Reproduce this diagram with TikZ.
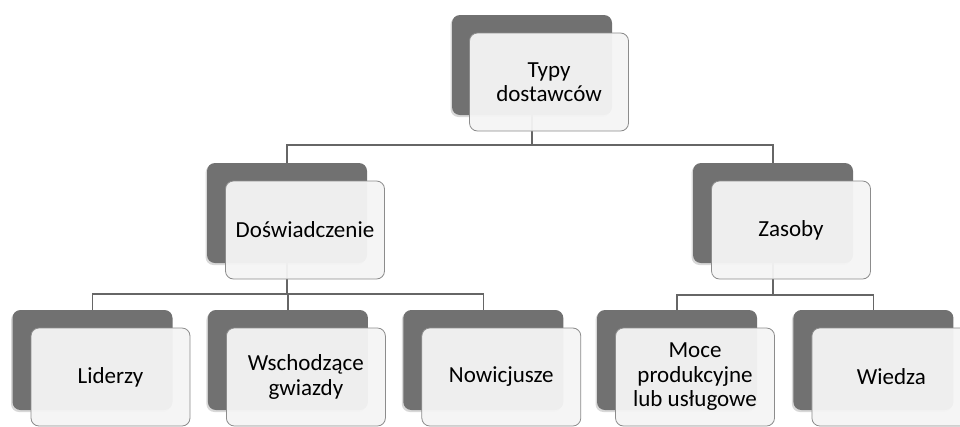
\documentclass[tikz,border=0pt]{standalone}
\usepackage{fontspec}
\setmainfont{Carlito}
\usepackage{tikz}
\usetikzlibrary{positioning,calc,shadows}
\pgfdeclarelayer{bg}
\pgfsetlayers{bg,main}
\definecolor{backgray}{HTML}{717171}
\definecolor{frontgray}{HTML}{F5F5F5}
\definecolor{edgegray}{HTML}{8C8C8C}
\definecolor{linegray}{HTML}{666666}

\begin{document}
\begin{tikzpicture}[x=1pt,y=-1pt]

\tikzset{
    back/.style={fill=backgray, rounded corners=8pt, minimum width=160pt,
      minimum height=100pt, inner sep=0pt,
      drop shadow={shadow xshift=-1.5pt, shadow yshift=-2pt, opacity=.3}},
    front/.style={draw=edgegray, line width=.8pt, fill=frontgray,
      fill opacity=.95, text opacity=1, rounded corners=8pt,
      minimum width=159pt, minimum height=98pt, inner sep=2pt,
      align=center, font=\fontsize{23}{24.5}\selectfont},
    conn/.style={draw=linegray, line width=1.5pt},
}

  \useasboundingbox (0,0) rectangle (960,426);
  \clip (0,0) rectangle (960,426);

  % top
  \node [back] (typy-b) at (532,65) {};
  \node [front] (typy) at ([shift={(17,17)}]typy-b.center) {Typy\\dostawców};

  % second level
  \node [back] (dosw-b) at (287,213) {};
  \node [front] (dosw) at ([shift={(18,17)}]dosw-b.center) {Doświadczenie};

  \node [back] (zas-b) at (773,213) {};
  \node [front] (zas) at ([shift={(18,17)}]zas-b.center) {Zasoby};

  % third level
  \node [back] (lid-b) at (92.5,360) {};
  \node [front] (lid) at ([shift={(18,17)}]lid-b.center) {Liderzy};

  \node [back, right=35pt of lid-b] (wsch-b) {};
  \node [front] (wsch) at ([shift={(18,17)}]wsch-b.center) {Wschodzące\\gwiazdy};

  \node [back, right=35pt of wsch-b] (now-b) {};
  \node [front] (now) at ([shift={(18,17)}]now-b.center) {Nowicjusze};

  \node [back] (moce-b) at (677,360) {};
  \node [front] (moce) at ([shift={(18,17)}]moce-b.center) {Moce\\produkcyjne\\lub usługowe};

  \node [back, right=36pt of moce-b] (wied-b) {};
  \node [front] (wied) at ([shift={(18,17)}]wied-b.center) {Wiedza};

  \begin{pgfonlayer}{bg}
    \fill[white] (0,0) rectangle (960,426);
    \foreach \c in {dosw-b,zas-b}
      \draw[conn] (typy-b.south) -- ++(0,30) -| (\c.north);
    \foreach \c in {lid-b,wsch-b,now-b}
      \draw[conn] (dosw-b.south) -- ++(0,31) -| (\c.north);
    \foreach \c in {moce-b,wied-b}
      \draw[conn] (zas-b.south) -- ++(0,32) -| (\c.north);
  \end{pgfonlayer}

\end{tikzpicture}
\end{document}
